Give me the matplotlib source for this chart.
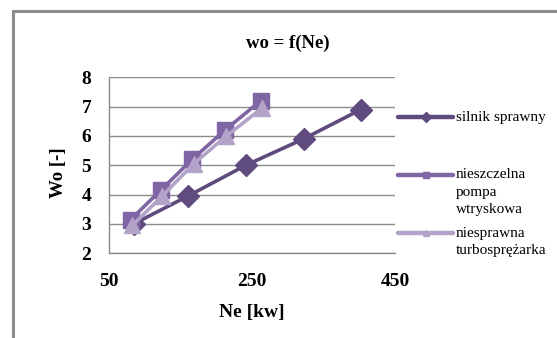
import matplotlib
matplotlib.use("Agg")
import matplotlib.pyplot as plt
from matplotlib.lines import Line2D
from matplotlib.patches import Rectangle

# Data
series_names = ["silnik sprawny", "nieszczelna\npompa\nwtryskowa", "niesprawna\nturbosprężarka"]
x_silnik = [84, 160, 241, 322, 402]
y_silnik = [3.0, 3.95, 5.0, 5.9, 6.9]
x_pompa = [80, 122, 166, 212, 262]
y_pompa = [3.15, 4.15, 5.2, 6.2, 7.2]
x_turbo = [82, 124, 168, 214, 264]
y_turbo = [2.95, 3.95, 5.05, 6.0, 6.95]
x_ticks = [50, 250, 450]
y_ticks = [2, 3, 4, 5, 6, 7, 8]

colors = ["#5F4B7E", "#7F65A4", "#B3A3C9"]
markers = ["D", "s", "^"]
msizes = [11, 12, 12]

plt.rcParams['font.family'] = ['Liberation Serif', 'DejaVu Serif']

W, H = 557, 338
fig = plt.figure(figsize=(W / 100, H / 100), dpi=100)

# outer chart frame
fig.patches.append(Rectangle((13 / W, -0.1), 1.2, 1 - 11 / H + 0.1, transform=fig.transFigure,
                             fill=False, edgecolor="#8c8c8c", linewidth=2.2))

ax = fig.add_axes([109.3 / W, 1 - 253.3 / H, (395 - 109.3) / W, (253.3 - 77.3) / H])

data = [(x_silnik, y_silnik), (x_pompa, y_pompa), (x_turbo, y_turbo)]
for (xs, ys), c, m, ms in zip(data, colors, markers, msizes):
    ax.plot(xs, ys, color=c, linewidth=2.6, marker=m, markersize=ms, zorder=3)

ax.set_xlim(50, 450)
ax.set_ylim(2, 8)
ax.set_xticks(x_ticks)
ax.set_yticks(y_ticks)
ax.tick_params(length=0, labelsize=14)
for lab in ax.get_xticklabels() + ax.get_yticklabels():
    lab.set_fontweight("bold")
ax.tick_params(axis='y', pad=13)
ax.tick_params(axis='x', pad=14)
ax.grid(axis='y', color="#8c8c8c", linewidth=1)
ax.set_axisbelow(True)
for s in ["top", "right"]:
    ax.spines[s].set_visible(False)
for s in ["left", "bottom"]:
    ax.spines[s].set_color("#8c8c8c")
    ax.spines[s].set_linewidth(1)

fig.text(288 / W, 1 - 43 / H, "wo = f(Ne)", ha="center", va="center", fontsize=13.5, fontweight="bold")
fig.text(58.6 / W, 1 - 173 / H, "Wo [-]", ha="center", va="center", rotation=90, fontsize=13.5, fontweight="bold")
fig.text(252 / W, 1 - 312 / H, "Ne [kw]", ha="center", va="center", fontsize=14, fontweight="bold")

# legend drawn manually
leg_y = [117, 175, 233]
for name, c, m, ly in zip(series_names, colors, markers, leg_y):
    yf = 1 - ly / H
    fig.add_artist(Line2D([398 / W, 453 / W], [yf, yf], transform=fig.transFigure,
                          color=c, linewidth=3.2, solid_capstyle="round"))
    fig.add_artist(Line2D([425.5 / W], [yf], transform=fig.transFigure, color=c,
                          marker=m, markersize=5, linestyle="none"))
    for i, t in enumerate(name.split("\n")):
        fig.text(456 / W, 1 - (ly + i * 17.5) / H, t, ha="left", va="center", fontsize=11)

fig.savefig("out.png", dpi=100)
